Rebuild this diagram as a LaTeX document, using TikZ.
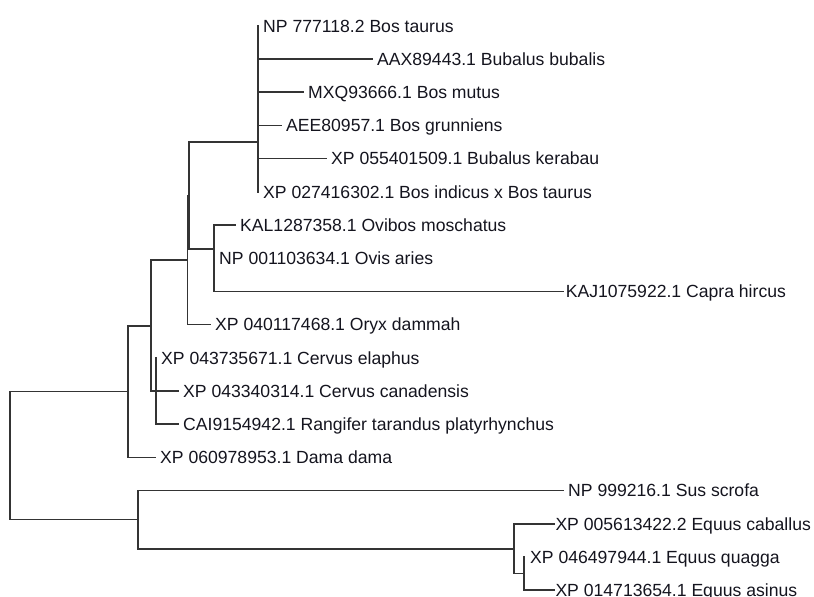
\documentclass[tikz,border=0pt]{standalone}
\usepackage{fontspec}
\setmainfont{Liberation Sans}
\definecolor{TreeGray}{RGB}{52,52,52}
\definecolor{LabelInk}{RGB}{20,20,30}
\usepackage{tikz}

\begin{document}
\begin{tikzpicture}[x=1pt, y=-1pt,
    branch/.style={draw=TreeGray, line width=1.7pt, line cap=rect},
    leaf/.style={anchor=west, inner xsep=5pt, inner ysep=0pt,
                 text height=12.6pt, text depth=0pt, text=LabelInk,
                 font=\fontsize{17.6}{20}\selectfont},
    tightleaf/.style={leaf, inner xsep=1.3pt}]
    \useasboundingbox (0,0) rectangle (814,597);

    % leaves
    \node[leaf] (taurus)   at (258,25.8)  {NP 777118.2 Bos taurus};
    \node[leaf] (bubalis)  at (372,59)    {AAX89443.1 Bubalus bubalis};
    \node[leaf] (mutus)    at (303,92.2)  {MXQ93666.1 Bos mutus};
    \node[leaf] (grunn)    at (281,125.4) {AEE80957.1 Bos grunniens};
    \node[leaf] (kerabau)  at (326,158.6) {XP 055401509.1 Bubalus kerabau};
    \node[leaf] (indicus)  at (258,191.8) {XP 027416302.1 Bos indicus x Bos taurus};
    \node[leaf] (ovibos)   at (235,225)   {KAL1287358.1 Ovibos moschatus};
    \node[leaf] (ovis)     at (214,258.2) {NP 001103634.1 Ovis aries};
    \node[leaf, inner xsep=2.6pt] (capra) at (563,291.4) {KAJ1075922.1 Capra hircus};
    \node[leaf] (oryx)     at (210,324.6) {XP 040117468.1 Oryx dammah};
    \node[leaf] (elaphus)  at (156,357.8) {XP 043735671.1 Cervus elaphus};
    \node[leaf] (canad)    at (178,391)   {XP 043340314.1 Cervus canadensis};
    \node[leaf] (rangifer) at (178,424.2) {CAI9154942.1 Rangifer tarandus platyrhynchus};
    \node[leaf] (dama)     at (155,457.4) {XP 060978953.1 Dama dama};
    \node[leaf] (sus)      at (563,490.6) {NP 999216.1 Sus scrofa};
    \node[tightleaf] (caballus) at (554,523.8) {XP 005613422.2 Equus caballus};
    \node[leaf, inner xsep=6pt] (quagga) at (524,557) {XP 046497944.1 Equus quagga};
    \node[tightleaf] (asinus)   at (554,590.2) {XP 014713654.1 Equus asinus};

    % internal nodes
    \coordinate (nBos)    at (258,142);
    \coordinate (nOvis)   at (214,249);
    \coordinate (nCaprin) at (189,196);
    \coordinate (nBovid)  at (187.5,260);
    \coordinate (nCervus) at (156,391);
    \coordinate (nPecora) at (151,326);
    \coordinate (nRumin)  at (128,391.5);
    \coordinate (nEqH)    at (524,573.6);
    \coordinate (nEquus)  at (514,548.7);
    \coordinate (nOut)    at (138,519.6);
    \coordinate (nRoot)   at (10,455.6);

    % branches
    \foreach \c in {taurus,bubalis,mutus,grunn,kerabau,indicus}
      \draw[branch] (nBos) |- (\c.west);
    \foreach \c in {ovibos,ovis,capra}
      \draw[branch] (nOvis) |- (\c.west);
    \draw[branch] (nCaprin) |- (nBos);
    \draw[branch] (nCaprin) |- (nOvis);
    \draw[branch] (nBovid) |- (nCaprin);
    \draw[branch] (nBovid) |- (oryx.west);
    \foreach \c in {elaphus,canad,rangifer}
      \draw[branch] (nCervus) |- (\c.west);
    \draw[branch] (nPecora) |- (nBovid);
    \draw[branch] (nPecora) |- (nCervus);
    \draw[branch] (nRumin) |- (nPecora);
    \draw[branch] (nRumin) |- (dama.west);
    \draw[branch] (nEqH) |- (quagga.west);
    \draw[branch] (nEqH) |- (asinus.west);
    \draw[branch] (nEquus) |- (caballus.west);
    \draw[branch] (nEquus) |- (nEqH);
    \draw[branch] (nOut) |- (sus.west);
    \draw[branch] (nOut) |- (nEquus);
    \draw[branch] (nRoot) |- (nRumin);
    \draw[branch] (nRoot) |- (nOut);
\end{tikzpicture}
\end{document}
